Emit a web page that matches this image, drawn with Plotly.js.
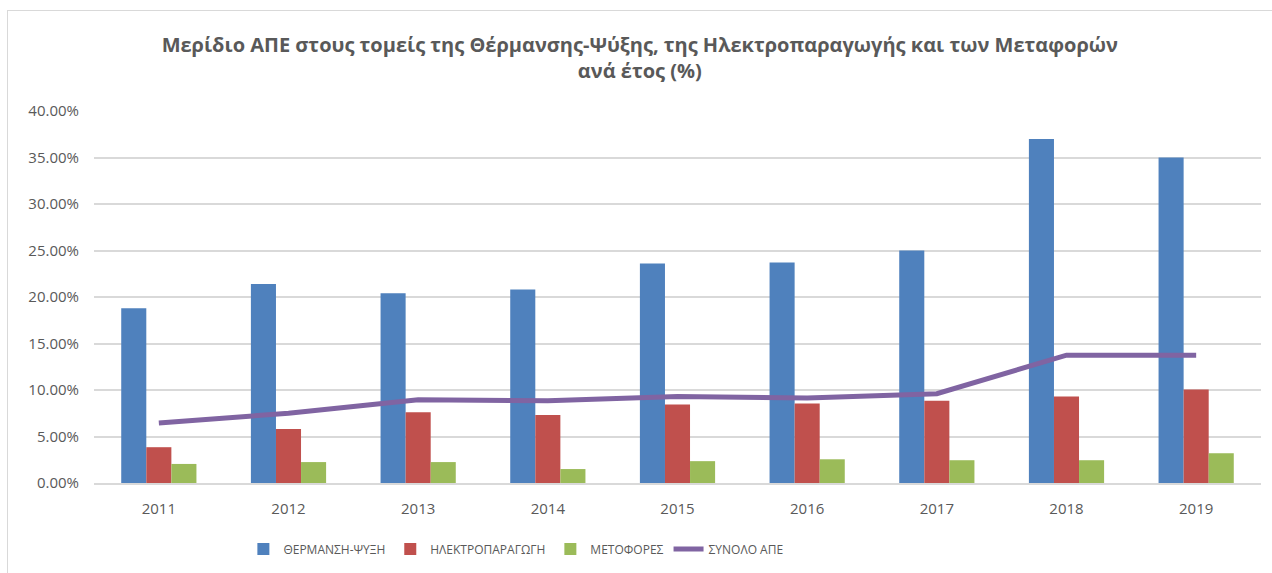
<!DOCTYPE html>
<html>
<head>
<meta charset="utf-8">
<script src="https://cdn.plot.ly/plotly-3.0.1.min.js"></script>
<style>
html,body{margin:0;padding:0;background:#fff;width:1272px;height:573px;overflow:hidden;}
#frame{position:absolute;left:7px;top:10px;width:1300px;height:600px;border-top:1px solid #d9d9d9;border-left:1px solid #d9d9d9;}
#chart{position:absolute;left:0;top:0;width:1272px;height:573px;}
</style>
</head>
<body>
<div id="frame"></div>
<div id="chart"></div>
<script>
const years = ['2011','2012','2013','2014','2015','2016','2017','2018','2019'];
const heating = [18.8, 21.4, 20.4, 20.8, 23.6, 23.7, 25.0, 37.0, 35.0];
const electricity = [3.85, 5.8, 7.6, 7.3, 8.45, 8.55, 8.85, 9.3, 10.05];
const transport = [2.05, 2.25, 2.25, 1.5, 2.35, 2.55, 2.45, 2.45, 3.2];
const totalRES = [6.45, 7.5, 8.95, 8.85, 9.3, 9.15, 9.6, 13.75, 13.75];
const seriesNames = ['ΘΕΡΜΑΝΣΗ-ΨΥΞΗ', 'ΗΛΕΚΤΡΟΠΑΡΑΓΩΓΗ', 'ΜΕΤΟΦΟΡΕΣ', 'ΣΥΝΟΛΟ ΑΠΕ'];

const font = '"Open Sans", "Noto Sans", sans-serif';
const traces = [
  {type:'bar', name:seriesNames[0], x:years, y:heating, marker:{color:'#4F81BD'}},
  {type:'bar', name:seriesNames[1], x:years, y:electricity, marker:{color:'#C0504D'}},
  {type:'bar', name:seriesNames[2], x:years, y:transport, marker:{color:'#9BBB59'}},
  {type:'scatter', mode:'lines', name:seriesNames[3], x:years, y:totalRES, line:{color:'#8064A2', width:5}}
];
const layout = {
  width:1272, height:573,
  paper_bgcolor:'rgba(0,0,0,0)', plot_bgcolor:'rgba(0,0,0,0)',
  margin:{l:94, r:11, t:111, b:89},
  barmode:'group', bargap:0.42, bargroupgap:0,
  font:{family:font, color:'#595959', size:14},
  title:{text:'<b>Μερίδιο ΑΠΕ στους τομείς της Θέρμανσης-Ψύξης, της Ηλεκτροπαραγωγής και των Μεταφορών<br>ανά έτος (%)</b>',
         font:{family:font, size:20, color:'#595959'}, x:0.503, xanchor:'center', yref:'container', y:0.91, yanchor:'middle'},
  xaxis:{type:'category', showgrid:false, showline:true, linecolor:'#d9d9d9', linewidth:2, ticks:'', ticklabelstandoff:11,
         tickfont:{size:15, color:'#595959'}},
  yaxis:{range:[0,40], dtick:5, tickformat:'.2f', ticksuffix:'%', showgrid:true, gridcolor:'#d9d9d9', gridwidth:2,
         zeroline:false, showline:false, ticks:'', ticklabelstandoff:14, tickfont:{size:15, color:'#595959'}},
  showlegend:true,
  legend:{orientation:'h', x:0.128, xanchor:'left', y:-0.174, yanchor:'middle', font:{size:12, color:'#595959'}, traceorder:'normal'}
};
Plotly.newPlot('chart', traces, layout, {displayModeBar:false, staticPlot:true});
</script>
</body>
</html>
